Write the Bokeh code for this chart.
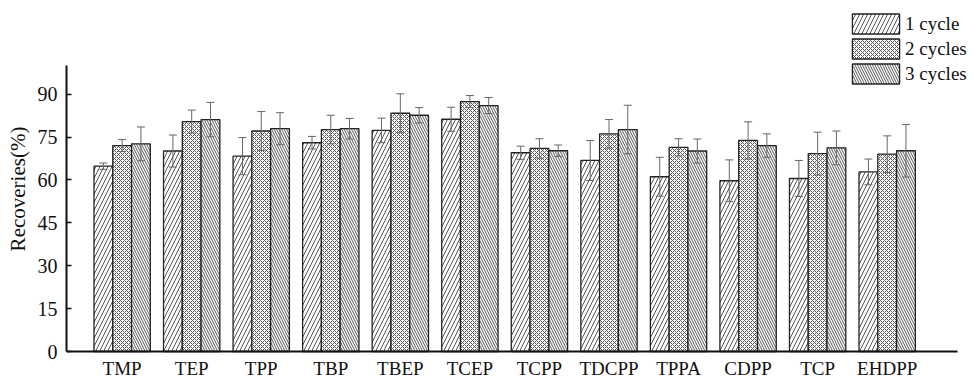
import numpy as np
from bokeh.plotting import figure
from bokeh.models import (ColumnDataSource, FixedTicker, Whisker, TeeHead, Legend,
                          LegendItem, Range1d)
from bokeh.embed import file_html
from bokeh.resources import INLINE

categories = ["TMP", "TEP", "TPP", "TBP", "TBEP", "TCEP", "TCPP", "TDCPP",
              "TPPA", "CDPP", "TCP", "EHDPP"]
series_names = ["1 cycle", "2 cycles", "3 cycles"]
cycle1 = [64.8, 70.1, 68.3, 73.0, 77.3, 81.2, 69.5, 66.8, 61.1, 59.7, 60.5, 62.8]
err1 = [1.1, 5.6, 6.5, 2.2, 4.3, 4.2, 2.3, 7.0, 6.8, 7.3, 6.3, 4.5]
cycle2 = [72.0, 80.4, 77.1, 77.6, 83.3, 87.4, 71.0, 76.1, 71.4, 73.8, 69.2, 69.0]
err2 = [2.1, 4.0, 6.8, 5.0, 6.8, 2.1, 3.4, 5.0, 3.0, 6.5, 7.5, 6.4]
cycle3 = [72.6, 81.1, 77.9, 77.9, 82.6, 86.0, 70.2, 77.6, 70.1, 72.0, 71.2, 70.2]
err3 = [5.9, 6.0, 5.6, 3.6, 2.7, 2.8, 2.0, 8.5, 4.2, 4.1, 5.9, 9.2]
y_ticks = [0, 15, 30, 45, 60, 75, 90]

FONT = "Liberation Serif"
BAR_W = 0.27

p = figure(width=973, height=377, x_range=Range1d(-0.8, 12.241),
           y_range=Range1d(-9.09, 122.73), output_backend="svg",
           toolbar_location=None, min_border_left=66, min_border_right=0,
           min_border_top=0, min_border_bottom=0)
p.title.visible = False
p.outline_line_color = None
p.grid.visible = False
p.background_fill_color = "white"

styles = [
    dict(hatch_pattern="/", hatch_scale=8),
    dict(hatch_pattern="x", hatch_scale=4),
    dict(hatch_pattern="\\", hatch_scale=5),
]
values = [cycle1, cycle2, cycle3]
errors = [err1, err2, err3]
offsets = [-BAR_W, 0.0, BAR_W]
idx = np.arange(len(categories))

renderers = []
for vals, errs, off, st in zip(values, errors, offsets, styles):
    v = np.array(vals)
    e = np.array(errs)
    src = ColumnDataSource(dict(x=idx + off, top=v, upper=v + e, lower=v - e))
    r = p.vbar(x="x", top="top", bottom=0, width=BAR_W, source=src,
               fill_color="white", line_color="#222222", line_width=1.3,
               hatch_color="#555555", hatch_weight=1, **st)
    renderers.append(r)
    w = Whisker(base="x", upper="upper", lower="lower", source=src,
                line_color="#666666", line_width=1, level="annotation",
                upper_head=TeeHead(size=8, line_color="#666666", line_width=1),
                lower_head=TeeHead(size=8, line_color="#666666", line_width=1))
    p.add_layout(w)

# x axis
xa = p.xaxis[0]
xa.fixed_location = 0
xa.bounds = (-0.8, 12.01)
xa.ticker = FixedTicker(ticks=list(range(len(categories))))
xa.major_label_overrides = {i: c for i, c in enumerate(categories)}
xa.major_tick_in = 0
xa.major_tick_out = 0
xa.minor_tick_in = 0
xa.minor_tick_out = 0
xa.axis_line_width = 2
xa.axis_line_color = "#111111"
xa.major_label_standoff = 6
xa.major_label_text_font = FONT
xa.major_label_text_font_size = "19px"
xa.major_label_text_color = "#111111"

# y axis
ya = p.yaxis[0]
ya.bounds = (0, 100)
ya.ticker = FixedTicker(ticks=y_ticks)
ya.major_tick_in = 5
ya.major_tick_out = 0
ya.minor_tick_in = 0
ya.minor_tick_out = 0
ya.axis_line_width = 2
ya.axis_line_color = "#111111"
ya.major_tick_line_color = "#111111"
ya.major_tick_line_width = 1.5
ya.major_label_standoff = 9
ya.major_label_text_font = FONT
ya.major_label_text_font_size = "20px"
ya.major_label_text_color = "#111111"
ya.axis_label = "Recoveries(%)"
ya.axis_label_text_font = FONT
ya.axis_label_text_font_size = "21px"
ya.axis_label_text_font_style = "normal"
ya.axis_label_text_color = "#111111"
ya.axis_label_standoff = 5

legend = Legend(items=[LegendItem(label=n, renderers=[r])
                       for n, r in zip(series_names, renderers)],
                location=(780, 291), padding=0, margin=0, spacing=0,
                glyph_width=59, glyph_height=25, label_standoff=0,
                border_line_color=None, background_fill_alpha=0,
                label_text_font=FONT, label_text_font_size="19px",
                label_text_color="#111111")
p.add_layout(legend)

open("out.html", "w").write(file_html(p, INLINE))
